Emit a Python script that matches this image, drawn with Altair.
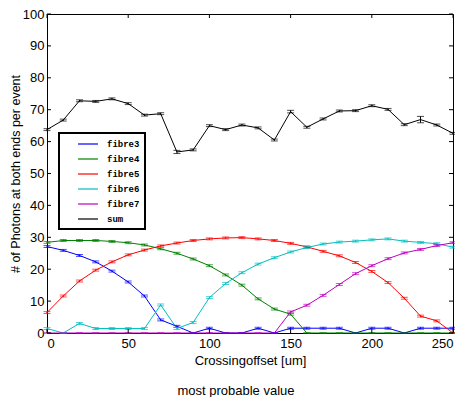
import altair as alt
import pandas as pd

offsets = list(range(0, 260, 10))
fibre3 = [27.1, 25.9, 24.3, 22.3, 19.4, 16.0, 11.6, 4.1, 2.1, 0, 1.5, 0, 0, 1.5, 0, 1.5,
          1.5, 1.5, 1.5, 0, 1.5, 1.5, 0, 1.5, 1.5, 1.5]
fibre4 = [28.4, 29.0, 29.0, 29.0, 28.7, 28.3, 27.6, 26.4, 25.0, 23.2, 21.1, 18.2, 15.0, 10.7,
          7.5, 5.9, 0, 0, 0, 0, 0, 0, 0, 0, 0, 0]
fibre5 = [6.4, 11.6, 16.3, 19.7, 22.3, 24.5, 26.0, 27.3, 28.2, 29.0, 29.5, 29.8, 29.9, 29.5,
          29.0, 28.1, 27.0, 25.6, 24.2, 22.1, 19.3, 15.8, 10.9, 5.3, 3.8, 0]
fibre6 = [1.4, 0, 3.0, 1.4, 1.4, 1.4, 1.4, 8.8, 1.4, 3.3, 11.1, 15.5, 18.9, 21.6, 23.6, 25.4,
          26.8, 27.9, 28.5, 28.8, 29.2, 29.5, 28.8, 28.4, 28.0, 26.9]
fibre7 = [0, 0, 0, 0, 0, 0, 0, 0, 0, 0, 0, 0, 0, 0, 0, 6.6, 8.7, 11.8, 15.2, 18.6, 21.1,
          23.3, 25.1, 26.2, 27.4, 28.3]
total = [63.75, 66.75, 72.8, 72.6, 73.4, 71.9, 68.3, 68.75, 56.75, 57.4, 65.0, 63.75, 65.2,
         64.3, 60.5, 69.4, 64.5, 67.1, 69.6, 69.7, 71.25, 70.1, 65.3, 66.9, 65.2, 62.6]
total_err = [0.3, 0.3, 0.3, 0.3, 0.3, 0.3, 0.3, 0.3, 0.5, 0.3, 0.3, 0.3, 0.3, 0.3, 0.3, 0.4,
             0.3, 0.3, 0.3, 0.3, 0.3, 0.3, 0.3, 1.0, 0.3, 0.3]
fibre_err = 0.3

series_names = ["fibre3", "fibre4", "fibre5", "fibre6", "fibre7", "sum"]
series_colors = ["#0000ff", "#008000", "#ff0000", "#00bfbf", "#bf00bf", "#000000"]
x_ticks = [0, 50, 100, 150, 200, 250]
y_ticks = [0, 10, 20, 30, 40, 50, 60, 70, 80, 90, 100]

rows = []
for name, vals in zip(series_names, [fibre3, fibre4, fibre5, fibre6, fibre7, total]):
    for i, (o, v) in enumerate(zip(offsets, vals)):
        if name == "sum":
            e = total_err[i]
        else:
            e = fibre_err if v > 0 else 0.0
        rows.append({"offset": o, "value": v, "series": name, "lo": v - e, "hi": v + e})
df = pd.DataFrame(rows)

W, H = 406, 319
xs = alt.Scale(domain=[0, 250], nice=False)
ys = alt.Scale(domain=[0, 100], nice=False)
cs = alt.Scale(domain=series_names, range=series_colors)

x_axis = alt.Axis(values=x_ticks, title="Crossingoffset [um]", grid=False,
                  tickSize=0, labelPadding=4, titlePadding=4, labelOverlap=False)
y_axis = alt.Axis(values=y_ticks, title="# of Photons at both ends per event",
                  grid=False, tickSize=0, labelPadding=3, titlePadding=0,
                  labelOverlap=False, titleFontSize=12.5)

X = lambda f: alt.X(f, scale=xs, axis=x_axis)
Y = lambda f: alt.Y(f, scale=ys, axis=y_axis)

base = alt.Chart(df)
lines = base.mark_line(strokeWidth=1).encode(
    x=X("offset:Q"), y=Y("value:Q"),
    color=alt.Color("series:N", scale=cs, sort=series_names,
                    legend=alt.Legend(title=None, orient="none", legendX=12, legendY=119,
                                      symbolType="M-2,0H2", symbolSize=100,
                                      symbolStrokeWidth=1.2, symbolOffset=18,
                                      labelFont="Liberation Mono", labelFontWeight="bold",
                                      labelFontSize=9, rowPadding=4, padding=5,
                                      labelOffset=13,
                                      strokeColor="black", fillColor="white")),
)
rules = base.mark_rule(strokeWidth=1).encode(
    x=X("offset:Q"), y=Y("lo:Q"), y2="hi:Q",
    color=alt.Color("series:N", scale=cs, legend=None),
)
tlo = base.mark_tick(orient="horizontal", size=7, thickness=1).encode(
    x=X("offset:Q"), y=Y("lo:Q"),
    color=alt.Color("series:N", scale=cs, legend=None),
)
thi = base.mark_tick(orient="horizontal", size=7, thickness=1).encode(
    x=X("offset:Q"), y=Y("hi:Q"),
    color=alt.Color("series:N", scale=cs, legend=None),
)

xt = alt.Chart(pd.DataFrame({"t": x_ticks}))
yt = alt.Chart(pd.DataFrame({"t": y_ticks}))
xticks_bottom = xt.mark_rule(color="black", strokeWidth=1).encode(
    x=X("t:Q"), y=alt.value(H), y2=alt.value(H - 4))
xticks_top = xt.mark_rule(color="black", strokeWidth=1).encode(
    x=X("t:Q"), y=alt.value(0), y2=alt.value(4))
yticks_left = yt.mark_rule(color="black", strokeWidth=1).encode(
    y=Y("t:Q"), x=alt.value(0), x2=alt.value(4))
yticks_right = yt.mark_rule(color="black", strokeWidth=1).encode(
    y=Y("t:Q"), x=alt.value(W), x2=alt.value(W - 4))

chart = alt.layer(lines, rules, tlo, thi, xticks_bottom, xticks_top, yticks_left,
                  yticks_right).properties(
    width=W, height=H,
    autosize=alt.AutoSizeParams(type="none"),
    padding={"left": 39, "top": 6, "right": 2, "bottom": 75},
    title=alt.TitleParams("most probable value", orient="bottom", fontSize=13,
                          font="Liberation Sans", fontWeight="normal", offset=18,
                          dx=-14, color="black"),
).configure_view(stroke="black", strokeWidth=1).configure_axis(
    domainColor="black", labelColor="black", titleColor="black",
    labelFont="Liberation Sans", titleFont="Liberation Sans",
    labelFontSize=13, titleFontSize=13, titleFontWeight="normal",
).configure_legend(strokeWidth=2)

chart.save("out.html", embed_options={"renderer": "svg", "actions": False})
